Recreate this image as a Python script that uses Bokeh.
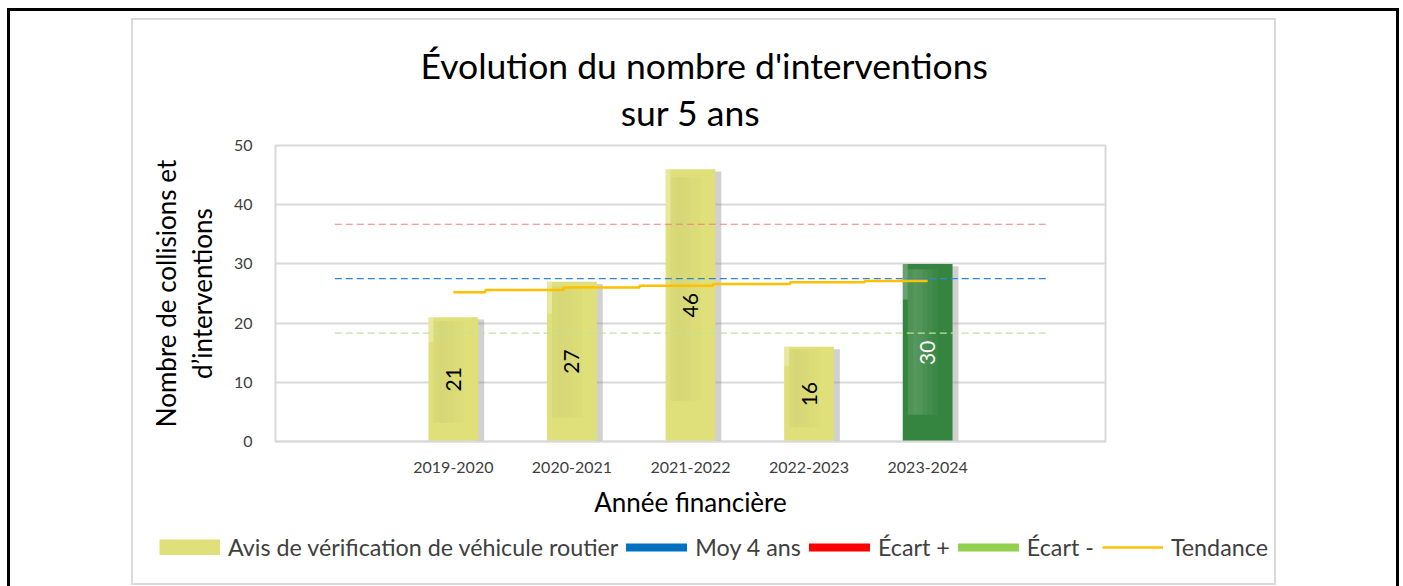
from math import pi
from bokeh.plotting import figure
from bokeh.layouts import column
from bokeh.models import (ColumnDataSource, Range1d, FixedTicker, LinearAxis, Title,
                          Legend, LegendItem, InlineStyleSheet)
from bokeh.transform import dodge
from bokeh.embed import file_html
from bokeh.resources import INLINE
from bokeh.core.properties import value

# ---------------- data ----------------
categories = ["2019-2020", "2020-2021", "2021-2022", "2022-2023", "2023-2024"]
counts = [21, 27, 46, 16, 30]
bar_colors = ["#DFE07A", "#DFE07A", "#DFE07A", "#DFE07A", "#35843F"]
label_colors = ["black", "black", "black", "black", "white"]
moy_4_ans = 27.5
ecart_plus = 36.7
ecart_moins = 18.3
ref_span = [0, 6]
trend_x = [1.0, 1.27, 1.93, 2.57, 3.19, 3.84, 4.47, 5.0]
trend_y = [25.2, 25.6, 26.0, 26.3, 26.6, 26.9, 27.1, 27.1]
y_ticks = [0, 10, 20, 30, 40, 50]

# ---------------- layout ----------------
W = 1403
H1, H2 = 530, 56
FL, FR, FT, FB = 275, 1105, 145, 441
NX = 7
BAR_W = 0.42
FONT = "Lato"

p = figure(width=W, height=H1, x_range=Range1d(-0.5, NX - 0.5), y_range=Range1d(0, 50),
           output_backend="svg", toolbar_location=None,
           min_border_left=FL, min_border_right=W - FR,
           min_border_top=FT, min_border_bottom=H1 - FB)
p.frame_align = False
p.background_fill_color = "white"
p.border_fill_color = "white"
p.outline_line_color = "#D9D9D9"
p.outline_line_width = 2

p.xgrid.visible = False
p.ygrid.grid_line_color = "#D9D9D9"
p.ygrid.grid_line_width = 2
p.ygrid.ticker = FixedTicker(ticks=y_ticks)

# y axis (tick labels + second line of the axis title)
p.yaxis.ticker = FixedTicker(ticks=y_ticks)
p.yaxis.axis_line_color = None
p.yaxis.major_tick_line_color = None
p.yaxis.minor_tick_line_color = None
p.yaxis.major_label_standoff = 17
p.yaxis.major_label_text_font = FONT
p.yaxis.major_label_text_font_size = "16px"
p.yaxis.major_label_text_color = "#404040"
p.yaxis.axis_label = "d’interventions"
p.yaxis.axis_label_standoff = 13
p.yaxis.axis_label_text_font = FONT
p.yaxis.axis_label_text_font_size = "26px"
p.yaxis.axis_label_text_font_style = "normal"
p.yaxis.axis_label_text_color = "black"

# first line of the y axis title as an extra (tick-less) axis further left
ax2 = LinearAxis(ticker=FixedTicker(ticks=[]), axis_line_color=None,
                 major_tick_line_color=None, minor_tick_line_color=None,
                 major_label_standoff=0,
                 axis_label="Nombre de collisions et", axis_label_standoff=1,
                 axis_label_text_font=FONT, axis_label_text_font_size="26px",
                 axis_label_text_font_style="normal", axis_label_text_color="black")
p.add_layout(ax2, "left")

xs = list(range(1, len(categories) + 1))
p.xaxis.ticker = FixedTicker(ticks=xs)
p.xaxis.major_label_overrides = {i: c for i, c in zip(xs, categories)}
p.xaxis.axis_line_color = "#D9D9D9"
p.xaxis.axis_line_width = 2
p.xaxis.major_tick_line_color = None
p.xaxis.minor_tick_line_color = None
p.xaxis.major_label_standoff = 14
p.xaxis.major_label_text_font = FONT
p.xaxis.major_label_text_font_size = "16px"
p.xaxis.major_label_text_color = "#404040"
p.xaxis.axis_label = "Année financière"
p.xaxis.axis_label_standoff = 10
p.xaxis.axis_label_text_font = FONT
p.xaxis.axis_label_text_font_size = "26px"
p.xaxis.axis_label_text_font_style = "normal"
p.xaxis.axis_label_text_color = "black"

# ---------------- title (two lines) ----------------
p.title.text = "Évolution du nombre d'interventions"
p.title.align = "left"
p.title.offset = 420 - FL
p.title.text_font = FONT
p.title.text_font_size = "35.5px"
p.title.text_font_style = "normal"
p.title.text_color = "black"
p.title.standoff = -20
p.add_layout(Title(text="sur 5 ans", align="center",
                   text_font=FONT, text_font_size="35.5px", text_font_style="normal",
                   text_color="black", standoff=24), "above")

# ---------------- bars ----------------
is_yellow = [c == "#DFE07A" for c in bar_colors]
src = ColumnDataSource(dict(
    x=xs, top=counts, color=bar_colors,
    shadow_top=[c - 0.4 for c in counts],
    tex_top=[c * 0.97 for c in counts],
    tex_bot=[c * 0.15 for c in counts],
    hi_bot=[c * 0.8 for c in counts],
    tex_color=["#707050" if y else "#FFFFFF" for y in is_yellow],
    tex_scale=[1.0 if y else 2.0 for y in is_yellow],
    label=[str(c) for c in counts],
    lab_y=[c / 2 for c in counts],
    lab_color=label_colors,
))
p.vbar(x=dodge("x", 0.05), top="shadow_top", bottom=0, width=BAR_W,
       fill_color="#8C8C8C", fill_alpha=0.4, line_color=None, source=src)
p.vbar(x="x", top="top", bottom=0, width=BAR_W, fill_color="color", line_color=None,
       source=src)

# soft "picture fill" shading on the left part of each bar (styling only)
strip_w = BAR_W / 10
for k, a in enumerate([0.0, 0.06, 0.08, 0.07, 0.05, 0.035, 0.02]):
    if a == 0.0:
        continue
    off = -BAR_W / 2 + strip_w * (k + 0.5)
    src.data["alpha_%d" % k] = [a * s for s in src.data["tex_scale"]]
    p.vbar(x=dodge("x", off), top="tex_top", bottom="tex_bot", width=strip_w,
           fill_color="tex_color", fill_alpha="alpha_%d" % k, line_color=None,
           source=src)
p.vbar(x=dodge("x", -BAR_W / 2 + strip_w / 2), top="top", bottom="hi_bot",
       width=strip_w, fill_color="#FFFFFF", fill_alpha=0.25, line_color=None,
       source=src)

p.text(x="x", y="lab_y", text="label", angle=pi / 2, text_align="center",
       text_baseline="middle", text_font=value(FONT), text_font_size="21px",
       text_color="lab_color", source=src)

# ---------------- reference lines ----------------
p.line(x=ref_span, y=[ecart_plus] * 2, line_color="#F37F7F", line_width=1.2, line_dash="7 4")
p.line(x=ref_span, y=[moy_4_ans] * 2, line_color="#2F86D8", line_width=1.2, line_dash="7 4")
p.line(x=ref_span, y=[ecart_moins] * 2, line_color="#BFE39A", line_width=1.2, line_dash="7 4")
p.step(x=trend_x, y=trend_y, mode="after", line_color="#FFC000", line_width=2.5)

# ---------------- legend (separate strip under the chart) ----------------
pl = figure(width=W, height=H2, x_range=Range1d(0, 1), y_range=Range1d(0, 1),
            output_backend="svg", toolbar_location=None,
            min_border_left=0, min_border_right=0, min_border_top=0, min_border_bottom=0)
pl.frame_align = False
pl.axis.visible = False
pl.grid.visible = False
pl.outline_line_color = None
pl.background_fill_color = "white"
pl.border_fill_color = "white"

off_x, off_y = [-5], [-5]   # proxies kept outside the visible range
lg_bar = pl.line(x=off_x, y=off_y, line_color="#DFE07A", line_width=16, line_cap="butt")
lg_moy = pl.line(x=off_x, y=off_y, line_color="#0070C0", line_width=8, line_cap="round")
lg_plus = pl.line(x=off_x, y=off_y, line_color="#FF0000", line_width=8, line_cap="round")
lg_moins = pl.line(x=off_x, y=off_y, line_color="#92D050", line_width=8, line_cap="round")
lg_tend = pl.line(x=off_x, y=off_y, line_color="#FFC000", line_width=2.5)

legend = Legend(items=[
    LegendItem(label="Avis de vérification de véhicule routier", renderers=[lg_bar]),
    LegendItem(label="Moy 4 ans", renderers=[lg_moy]),
    LegendItem(label="Écart +", renderers=[lg_plus]),
    LegendItem(label="Écart -", renderers=[lg_moins]),
    LegendItem(label="Tendance", renderers=[lg_tend]),
], orientation="horizontal", location=(159, 25),
    glyph_width=61, glyph_height=16, label_standoff=8, spacing=8,
    padding=0, margin=0, border_line_color=None, background_fill_alpha=0,
    label_text_font=FONT, label_text_font_size="23.3px", label_text_color="#404040",
    label_height=24)
pl.add_layout(legend)

layout = column(p, pl, spacing=0)

# ---------------- frames (CSS, drawn over the canvas) ----------------
css = """
:host { position: relative; }
:host::before { content: ""; position: absolute; left: 7px; top: 8px; width: 1392px;
  height: 620px; border: 3px solid black; box-sizing: border-box;
  pointer-events: none; z-index: 10; }
:host::after { content: ""; position: absolute; left: 131px; top: 18px; width: 1145px;
  height: 567px; border: 2px solid #D9D9D9; box-sizing: border-box;
  pointer-events: none; z-index: 10; }
"""
layout.stylesheets = [InlineStyleSheet(css=css)]

open("out.html", "w").write(file_html(layout, INLINE))
